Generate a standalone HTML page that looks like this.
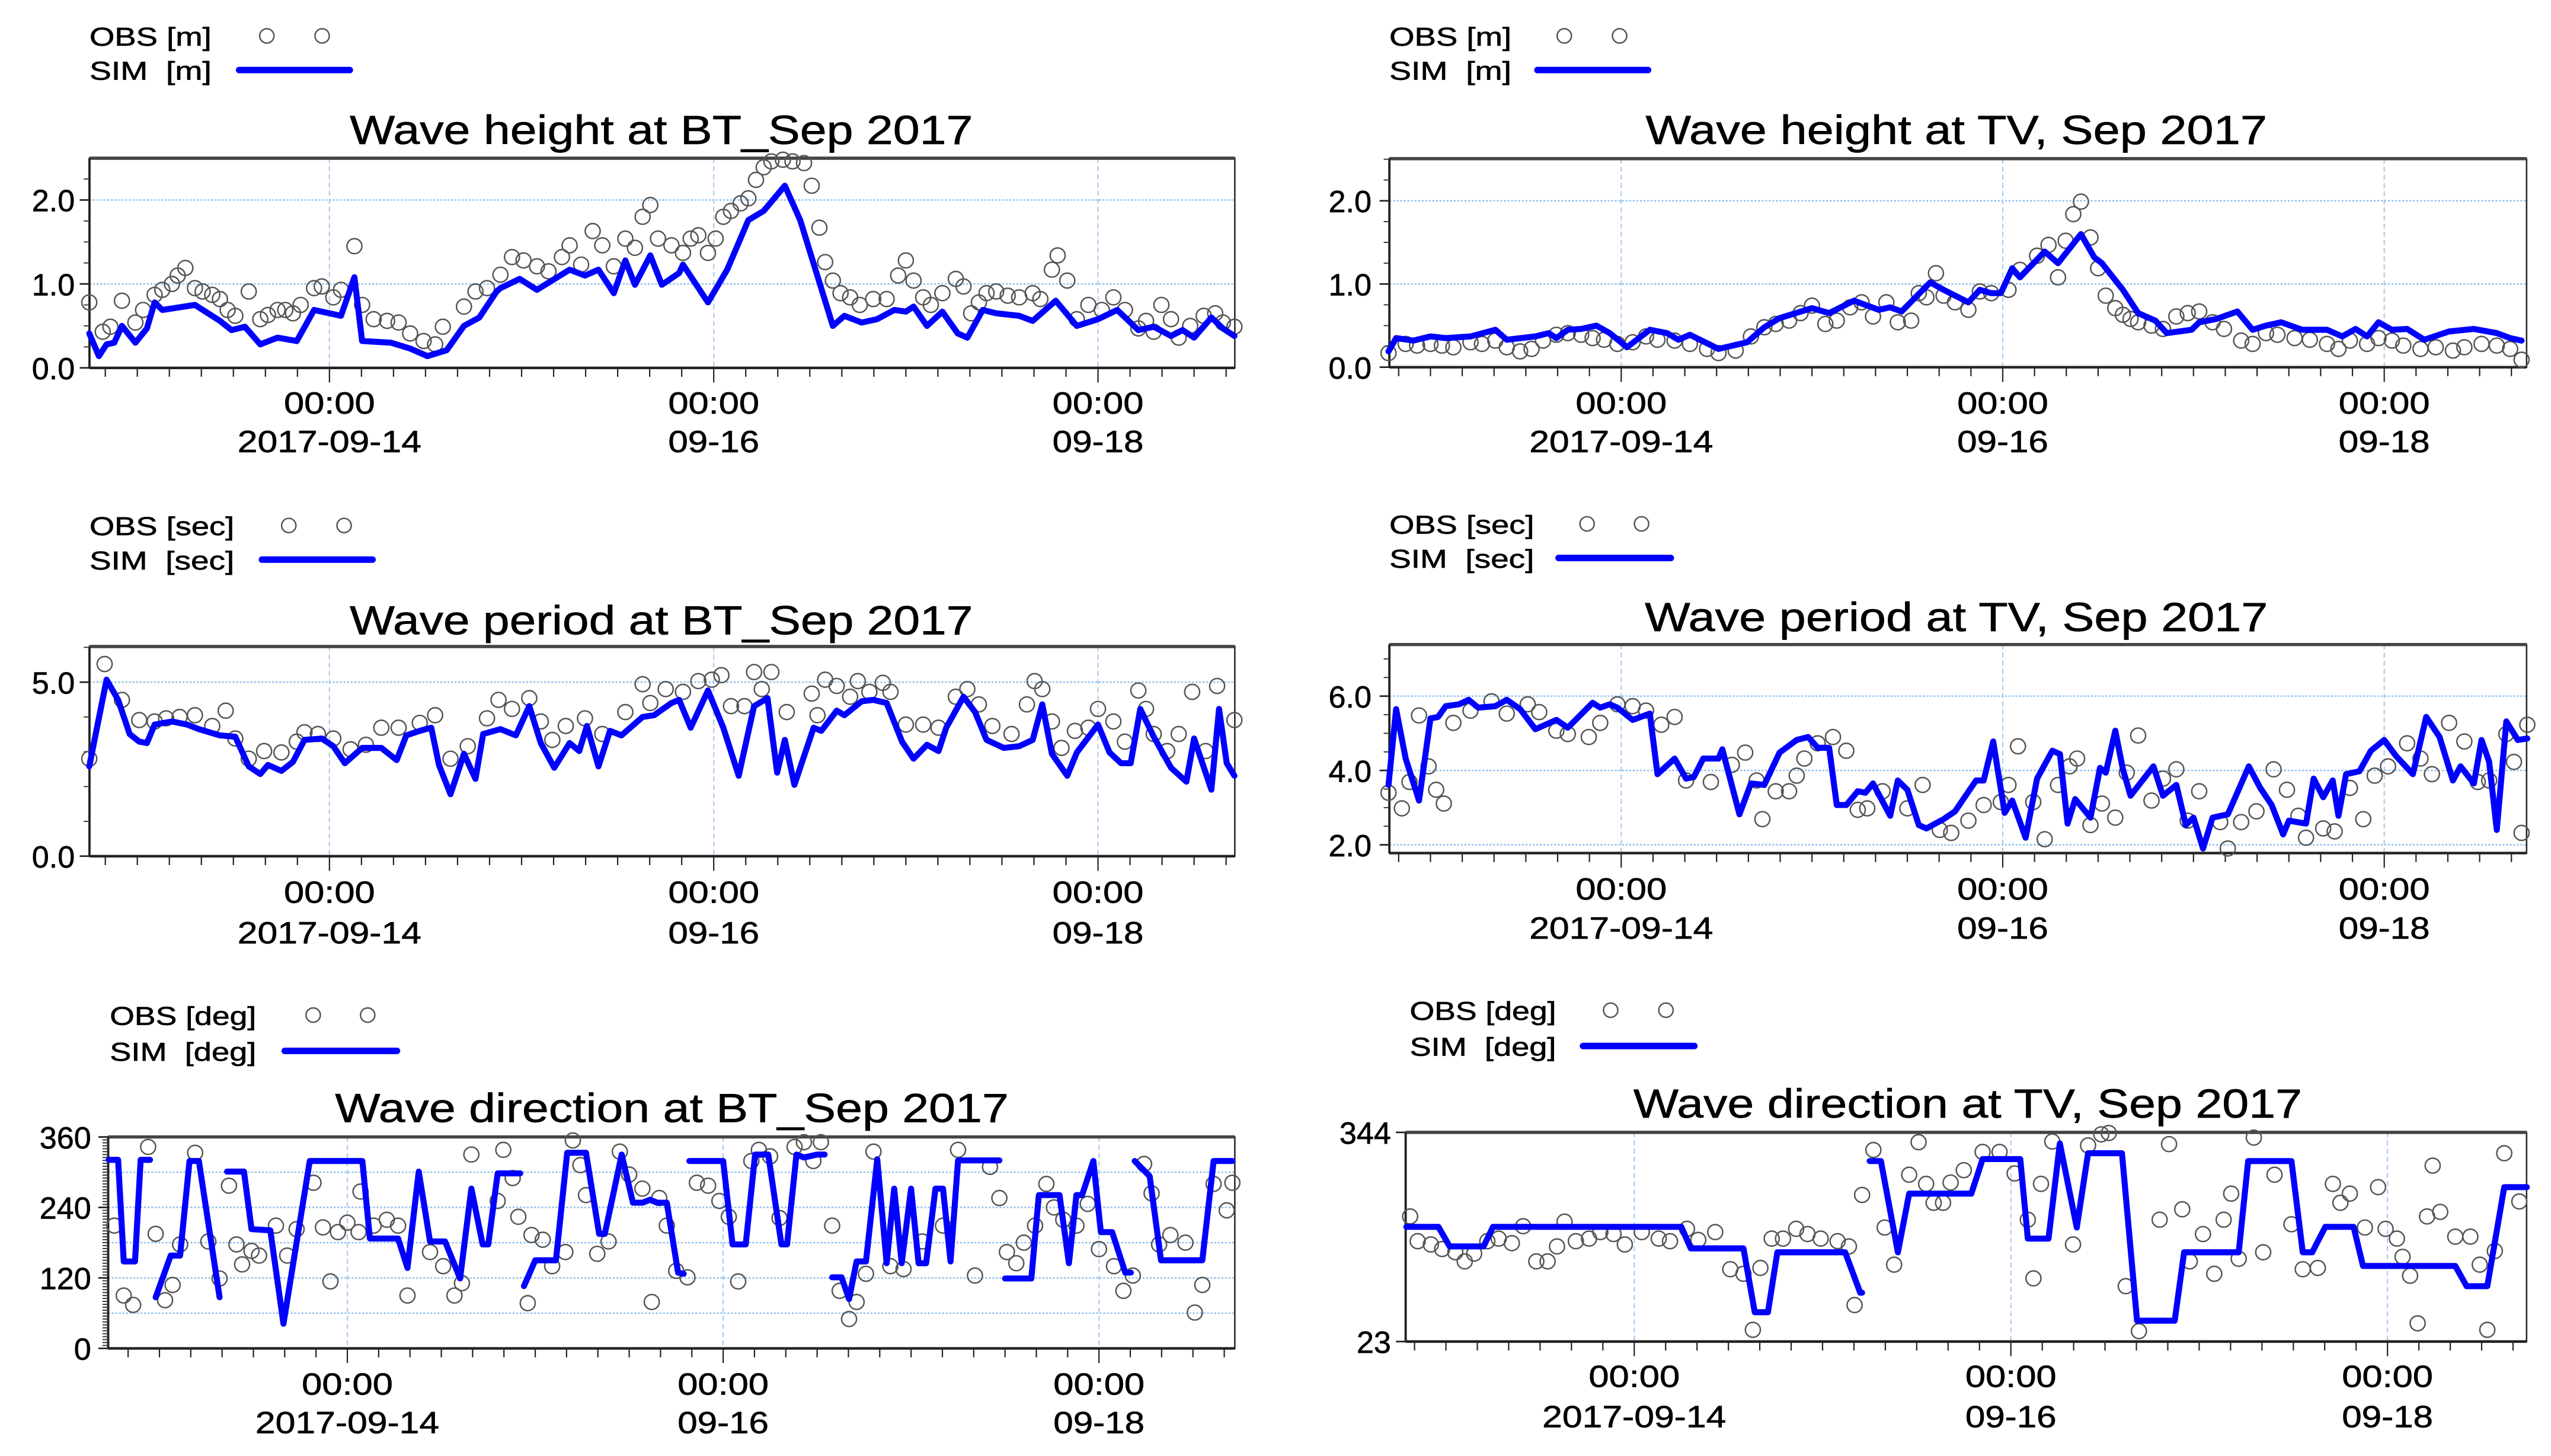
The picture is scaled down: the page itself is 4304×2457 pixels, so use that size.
<!DOCTYPE html>
<html><head><meta charset="utf-8"><title>Wave comparison BT / TV Sep 2017</title>
<style>
html,body{margin:0;padding:0;background:#fff;}
svg{display:block;font-family:"Liberation Sans",Arial,sans-serif;}
svg text{stroke:#000;stroke-width:0.25px;}
</style></head>
<body>
<svg id="chart" xmlns="http://www.w3.org/2000/svg" width="4304" height="2457" viewBox="0 0 1568 895"></svg>
<script>
// ---------- DATA (days relative to 2017-09-14 00:00) ----------
const xTickDays = [0, 2, 4];
const xTickTimes = ["00:00", "00:00", "00:00"];
const xTickDates = ["2017-09-14", "09-16", "09-18"];

// Panel 1: wave height BT
const p1SimDays = [-1.25,-1.2,-1.16,-1.12,-1.08,-1.01,-0.95,-0.91,-0.87,-0.7,-0.57,-0.51,-0.44,-0.36,-0.27,-0.17,-0.08,0.06,0.13,0.17,0.32,0.42,0.51,0.61,0.7,0.78,0.87,0.89,0.99,1.08,1.25,1.33,1.4,1.48,1.54,1.59,1.67,1.73,1.82,1.84,1.97,2.07,2.18,2.26,2.37,2.45,2.62,2.68,2.77,2.85,2.94,3.0,3.04,3.11,3.19,3.27,3.32,3.4,3.47,3.59,3.66,3.78,3.89,4.0,4.1,4.21,4.29,4.38,4.44,4.5,4.59,4.65,4.71];
const p1SimVals = [.41,.14,.28,.3,.5,.3,.47,.78,.69,.75,.56,.45,.49,.28,.36,.32,.69,.62,1.08,.32,.3,.23,.14,.21,.5,.6,.91,.95,1.06,.93,1.17,1.1,1.17,.89,1.28,.99,1.34,.99,1.13,1.23,.78,1.17,1.76,1.87,2.17,1.76,.5,.62,.54,.58,.69,.67,.73,.5,.67,.41,.36,.69,.65,.62,.56,.8,.5,.58,.69,.45,.49,.38,.45,.36,.6,.47,.38];
const p1ObsDays = [-1.25,-1.18,-1.14,-1.08,-1.01,-0.97,-0.91,-0.87,-0.82,-0.79,-0.75,-0.7,-0.66,-0.61,-0.57,-0.53,-0.49,-0.42,-0.36,-0.32,-0.27,-0.23,-0.19,-0.15,-0.08,-0.04,0.02,0.06,0.13,0.17,0.23,0.3,0.36,0.42,0.49,0.55,0.59,0.7,0.76,0.82,0.89,0.95,1.01,1.08,1.14,1.21,1.25,1.31,1.37,1.42,1.48,1.54,1.59,1.63,1.67,1.71,1.78,1.84,1.88,1.92,1.97,2.01,2.05,2.09,2.14,2.18,2.22,2.26,2.3,2.36,2.41,2.47,2.51,2.55,2.58,2.62,2.66,2.71,2.76,2.83,2.9,2.96,3.0,3.04,3.09,3.13,3.19,3.26,3.3,3.34,3.38,3.42,3.47,3.53,3.59,3.66,3.7,3.76,3.79,3.84,3.89,3.95,4.02,4.08,4.14,4.21,4.25,4.29,4.33,4.38,4.42,4.48,4.55,4.61,4.65,4.71];
const p1ObsVals = [.78,.43,.49,.8,.54,.69,.87,.93,1.0,1.1,1.19,.95,.91,.87,.82,.69,.62,.91,.58,.63,.69,.69,.65,.75,.95,.97,.84,.93,1.45,.75,.58,.56,.54,.41,.32,.28,.49,.73,.91,.95,1.11,1.32,1.28,1.21,1.15,1.32,1.46,1.23,1.63,1.46,1.21,1.54,1.43,1.8,1.94,1.54,1.46,1.37,1.54,1.58,1.37,1.54,1.8,1.87,1.96,2.02,2.24,2.39,2.46,2.48,2.46,2.44,2.17,1.67,1.26,1.04,.89,.84,.75,.82,.82,1.1,1.28,1.04,.84,.75,.89,1.06,.97,.65,.78,.89,.91,.86,.84,.89,.82,1.17,1.34,1.04,.58,.75,.69,.84,.69,.47,.56,.43,.75,.58,.36,.5,.62,.65,.54,.49];

// Panel 2: wave height TV
const p2SimDays = [-1.22,-1.18,-1.09,-1.0,-0.92,-0.79,-0.66,-0.6,-0.45,-0.38,-0.34,-0.28,-0.21,-0.13,-0.06,0.03,0.15,0.24,0.3,0.36,0.51,0.66,0.75,0.83,1.0,1.09,1.22,1.35,1.41,1.47,1.62,1.69,1.82,1.88,1.94,1.99,2.05,2.09,2.22,2.29,2.41,2.48,2.52,2.63,2.71,2.8,2.86,2.99,3.03,3.12,3.23,3.31,3.38,3.46,3.57,3.7,3.78,3.85,3.91,3.97,4.04,4.12,4.21,4.34,4.47,4.59,4.66,4.72];
const p2SimVals = [.19,.35,.32,.37,.35,.37,.45,.33,.37,.41,.35,.45,.46,.5,.41,.24,.45,.41,.33,.39,.22,.3,.48,.59,.71,.65,.8,.69,.72,.67,1.02,.93,.78,.93,.89,.89,1.19,1.08,1.39,1.25,1.6,1.32,1.25,.93,.65,.56,.41,.45,.54,.58,.67,.45,.5,.54,.45,.45,.37,.46,.37,.54,.45,.46,.33,.43,.46,.41,.35,.32];
const p2ObsDays = [-1.22,-1.13,-1.07,-1.0,-0.94,-0.88,-0.79,-0.73,-0.66,-0.6,-0.53,-0.47,-0.41,-0.34,-0.28,-0.21,-0.15,-0.09,-0.02,0.06,0.13,0.19,0.28,0.36,0.45,0.51,0.6,0.68,0.75,0.81,0.88,0.94,1.0,1.07,1.13,1.2,1.26,1.32,1.39,1.45,1.52,1.56,1.6,1.65,1.69,1.75,1.82,1.88,1.94,2.03,2.09,2.18,2.24,2.29,2.33,2.37,2.41,2.46,2.5,2.54,2.59,2.63,2.67,2.71,2.78,2.84,2.91,2.97,3.03,3.1,3.16,3.25,3.31,3.38,3.44,3.53,3.61,3.7,3.76,3.82,3.91,3.97,4.04,4.1,4.19,4.27,4.36,4.42,4.51,4.59,4.66,4.72];
const p2ObsVals = [.17,.28,.26,.28,.26,.24,.3,.28,.32,.24,.19,.22,.32,.39,.41,.39,.35,.33,.28,.3,.37,.33,.32,.28,.22,.17,.2,.37,.48,.52,.56,.65,.74,.52,.56,.72,.78,.61,.78,.54,.56,.89,.84,1.13,.86,.78,.69,.91,.89,.93,1.17,1.34,1.47,1.08,1.52,1.84,1.99,1.56,1.19,.86,.71,.63,.58,.54,.5,.46,.61,.65,.67,.54,.46,.32,.28,.41,.39,.35,.33,.28,.22,.32,.28,.35,.32,.26,.22,.24,.2,.24,.28,.26,.22,.09];

// Panel 3: wave period BT
const p3SimDays = [-1.25,-1.21,-1.16,-1.1,-1.04,-0.99,-0.95,-0.91,-0.82,-0.74,-0.68,-0.57,-0.49,-0.42,-0.36,-0.32,-0.25,-0.19,-0.13,-0.04,0.02,0.08,0.17,0.27,0.35,0.4,0.47,0.53,0.57,0.63,0.7,0.76,0.8,0.89,0.97,1.04,1.1,1.17,1.25,1.3,1.34,1.4,1.46,1.52,1.63,1.69,1.78,1.82,1.88,1.97,2.05,2.13,2.21,2.28,2.33,2.37,2.42,2.52,2.56,2.64,2.68,2.77,2.83,2.9,2.98,3.04,3.11,3.17,3.21,3.3,3.36,3.42,3.51,3.59,3.66,3.71,3.76,3.84,3.89,4.0,4.06,4.12,4.17,4.22,4.29,4.38,4.46,4.5,4.59,4.63,4.67,4.71];
const p3SimVals = [2.58,3.69,5.07,4.49,3.51,3.29,3.25,3.78,3.87,3.78,3.65,3.47,3.43,2.58,2.36,2.62,2.45,2.71,3.34,3.38,3.16,2.67,3.11,3.11,2.76,3.47,3.6,3.69,2.62,1.78,2.94,2.22,3.51,3.65,3.47,4.31,3.25,2.54,3.25,3.02,3.74,2.58,3.6,3.47,4.0,4.05,4.4,4.49,3.69,4.76,3.69,2.31,4.31,4.54,2.4,3.34,2.05,3.69,3.6,4.18,4.05,4.45,4.49,4.4,3.29,2.8,3.2,3.02,3.69,4.58,4.14,3.34,3.11,3.16,3.34,4.36,2.94,2.31,2.98,3.78,2.98,2.67,2.67,4.23,3.43,2.54,2.14,3.38,1.91,4.23,2.67,2.31];
const p3ObsDays = [-1.25,-1.17,-1.08,-0.99,-0.91,-0.85,-0.78,-0.7,-0.61,-0.54,-0.49,-0.42,-0.34,-0.25,-0.17,-0.13,-0.06,0.02,0.11,0.19,0.27,0.36,0.47,0.55,0.63,0.72,0.82,0.88,0.95,1.04,1.1,1.16,1.23,1.33,1.42,1.54,1.63,1.67,1.75,1.84,1.92,1.99,2.04,2.09,2.16,2.21,2.25,2.3,2.38,2.51,2.54,2.58,2.64,2.71,2.75,2.81,2.88,2.92,3.0,3.09,3.17,3.26,3.32,3.38,3.45,3.55,3.63,3.67,3.71,3.76,3.81,3.88,3.95,4.0,4.08,4.14,4.21,4.25,4.29,4.36,4.42,4.49,4.56,4.62,4.71];
const p3ObsVals = [2.8,5.52,4.49,3.91,3.87,3.96,4.0,4.05,3.74,4.18,3.38,2.8,3.02,2.98,3.29,3.56,3.51,3.38,3.07,3.2,3.69,3.69,3.83,4.05,2.8,3.16,3.96,4.49,4.23,4.54,3.87,3.34,3.74,3.96,3.51,4.14,4.94,4.4,4.8,4.72,5.03,5.07,5.2,4.31,4.31,5.29,4.8,5.29,4.14,4.67,4.05,5.07,4.89,4.58,5.03,4.72,4.98,4.72,3.78,3.78,3.69,4.58,4.8,4.36,3.74,3.51,4.36,5.03,4.8,3.87,3.11,3.6,3.69,4.23,3.87,3.29,4.76,4.23,3.51,3.02,3.51,4.72,3.02,4.89,3.91];

// Panel 4: wave period TV
const p4SimDays = [-1.22,-1.18,-1.13,-1.06,-1.0,-0.96,-0.92,-0.85,-0.8,-0.75,-0.66,-0.6,-0.53,-0.45,-0.34,-0.28,-0.15,-0.11,-0.06,-0.02,0.06,0.15,0.19,0.28,0.34,0.38,0.43,0.51,0.53,0.62,0.68,0.75,0.83,0.92,0.98,1.03,1.09,1.13,1.18,1.24,1.28,1.32,1.41,1.45,1.5,1.56,1.6,1.69,1.75,1.86,1.9,1.95,2.01,2.05,2.12,2.18,2.26,2.3,2.34,2.38,2.46,2.51,2.54,2.59,2.63,2.67,2.79,2.84,2.91,2.96,3.0,3.05,3.1,3.18,3.29,3.35,3.41,3.47,3.5,3.59,3.63,3.68,3.73,3.76,3.8,3.87,3.93,4.0,4.06,4.15,4.22,4.29,4.36,4.4,4.47,4.51,4.55,4.59,4.64,4.7,4.75];
const p4SimVals = [3.61,5.65,4.32,3.19,5.4,5.44,5.73,5.78,5.9,5.69,5.73,5.9,5.65,5.11,5.36,5.15,5.82,5.69,5.78,5.69,5.36,5.53,3.9,4.32,3.78,3.82,4.32,4.32,4.57,2.82,3.65,3.61,4.48,4.82,4.9,4.61,4.61,3.07,3.07,3.44,3.4,3.65,2.78,3.73,3.48,2.53,2.44,2.69,2.9,3.73,3.73,4.78,2.86,3.19,2.19,3.78,4.53,4.44,2.57,3.23,2.73,4.07,3.94,5.07,4.03,3.32,4.11,3.32,3.61,2.53,2.73,1.9,2.73,2.82,4.11,3.53,3.07,2.28,2.65,2.57,3.78,3.28,3.73,2.78,3.9,3.98,4.53,4.82,4.4,3.9,5.44,4.9,3.73,4.11,3.65,4.82,4.23,2.4,5.32,4.82,4.86];
const p4ObsDays = [-1.22,-1.15,-1.11,-1.06,-1.01,-0.97,-0.93,-0.88,-0.79,-0.68,-0.6,-0.49,-0.43,-0.34,-0.28,-0.17,-0.11,-0.02,0.06,0.13,0.21,0.28,0.34,0.47,0.58,0.65,0.71,0.74,0.81,0.88,0.92,0.96,1.03,1.11,1.18,1.24,1.29,1.37,1.5,1.58,1.67,1.73,1.82,1.9,1.99,2.03,2.08,2.16,2.22,2.29,2.35,2.39,2.46,2.52,2.59,2.65,2.71,2.78,2.84,2.91,2.97,3.03,3.14,3.18,3.25,3.33,3.42,3.49,3.55,3.59,3.68,3.74,3.82,3.89,3.95,4.02,4.12,4.19,4.25,4.34,4.42,4.49,4.55,4.64,4.68,4.72,4.75];
const p4ObsVals = [3.4,2.98,3.69,5.48,4.11,3.48,3.11,5.28,5.61,5.86,5.53,5.78,5.57,5.07,4.98,4.9,5.28,5.78,5.73,5.61,5.23,5.44,3.73,3.69,4.15,4.48,3.73,2.69,3.44,3.44,3.86,4.32,4.73,4.9,4.53,2.94,2.98,3.44,2.98,3.61,2.4,2.32,2.65,3.07,3.15,3.61,4.65,3.15,2.15,3.61,4.11,4.32,2.53,3.11,2.73,3.94,4.94,3.19,3.78,4.03,2.65,3.44,2.61,1.9,2.61,2.9,4.03,3.48,2.78,2.19,2.44,2.36,3.53,2.69,3.86,4.11,4.73,4.32,3.9,5.28,4.78,3.69,3.73,4.98,4.23,2.32,5.23];

// Panel 5: wave direction BT (null = gap)
const p5SimDays = [-1.27,-1.22,-1.19,-1.13,-1.1,-1.05,null,-1.02,-0.94,-0.89,-0.84,-0.79,-0.68,null,-0.64,-0.55,-0.51,-0.41,-0.34,-0.2,0.08,0.12,0.27,0.32,0.38,0.44,0.52,0.6,0.66,0.72,0.75,0.8,0.92,null,0.94,1.0,1.11,1.17,1.27,1.34,1.37,1.46,1.52,1.57,1.61,1.65,1.7,1.76,1.79,null,1.82,2.0,2.05,2.12,2.17,2.24,2.31,2.34,2.39,2.43,2.5,2.54,null,2.58,2.63,2.67,2.71,2.76,2.82,2.87,2.91,2.95,3.0,3.04,3.08,3.13,3.17,3.21,3.25,3.47,null,3.5,3.64,3.68,3.79,3.84,3.88,3.91,3.97,4.01,4.07,4.14,4.17,null,4.19,4.27,4.33,4.55,4.61,4.71];
const p5SimVals = [321,321,148,148,321,321,null,87,158,158,319,319,87,null,301,301,203,201,42,319,319,187,187,137,301,182,182,119,272,177,177,298,298,null,106,150,150,333,333,195,195,330,248,248,253,248,248,129,127,null,319,319,177,177,330,330,177,177,330,325,330,330,null,121,121,84,148,148,322,145,272,145,272,145,145,272,272,148,320,320,null,119,119,261,261,145,261,261,319,198,198,129,129,null,319,293,150,150,319,319];
const p5ObsDays = [-1.24,-1.19,-1.14,-1.06,-1.02,-0.97,-0.93,-0.89,-0.81,-0.74,-0.68,-0.63,-0.59,-0.56,-0.51,-0.47,-0.38,-0.32,-0.27,-0.18,-0.13,-0.09,-0.05,0.0,0.06,0.07,0.14,0.21,0.27,0.32,0.44,0.51,0.57,0.61,0.66,0.8,0.83,0.88,0.91,0.96,0.98,1.04,1.09,1.16,1.2,1.24,1.27,1.33,1.39,1.45,1.5,1.57,1.62,1.66,1.7,1.75,1.81,1.86,1.92,1.98,2.03,2.08,2.15,2.19,2.25,2.3,2.38,2.43,2.48,2.52,2.58,2.62,2.67,2.71,2.76,2.8,2.89,2.96,3.06,3.17,3.25,3.34,3.42,3.47,3.51,3.56,3.6,3.66,3.72,3.76,3.81,3.88,3.94,4.0,4.08,4.13,4.18,4.24,4.28,4.32,4.38,4.46,4.51,4.55,4.61,4.68,4.71];
const p5ObsVals = [209,90,74,343,195,82,108,177,333,182,119,277,177,143,166,158,209,158,203,282,206,114,198,214,198,267,209,219,209,90,164,140,90,111,330,251,338,290,224,77,193,185,140,164,354,312,261,161,182,335,296,272,79,256,209,132,121,282,277,251,224,114,319,338,327,222,343,351,319,351,209,98,50,79,127,335,140,135,182,209,338,124,309,256,164,145,180,209,280,240,219,209,246,169,140,98,124,314,264,177,193,180,61,108,280,235,282];

// Panel 6: wave direction TV (null = gap)
const p6SimDays = [-1.21,-1.04,-0.98,-0.8,-0.75,0.25,0.3,0.58,0.64,0.71,0.76,1.12,1.2,1.21,null,1.25,1.31,1.4,1.46,1.79,1.85,2.05,2.09,2.2,2.26,2.35,2.41,2.59,2.67,2.87,2.92,3.21,3.26,3.49,3.55,3.6,3.67,3.82,3.87,4.36,4.42,4.53,4.62,4.74];
const p6SimVals = [199,199,169,169,199,199,166,166,68,68,160,160,98,98,null,300,300,160,250,250,303,303,181,181,327,198,312,312,55,55,160,160,300,300,160,160,199,199,139,139,108,108,260,260];
const p6ObsDays = [-1.19,-1.15,-1.08,-1.02,-0.95,-0.9,-0.85,-0.78,-0.72,-0.65,-0.59,-0.52,-0.46,-0.41,-0.37,-0.31,-0.24,-0.18,-0.11,-0.05,0.04,0.13,0.19,0.28,0.34,0.43,0.51,0.58,0.63,0.67,0.73,0.79,0.86,0.92,0.99,1.08,1.14,1.17,1.21,1.27,1.33,1.38,1.46,1.51,1.55,1.59,1.64,1.68,1.75,1.85,1.94,2.02,2.09,2.12,2.16,2.22,2.33,2.41,2.48,2.52,2.61,2.68,2.79,2.84,2.91,2.95,3.02,3.08,3.13,3.17,3.21,3.29,3.34,3.4,3.49,3.55,3.63,3.71,3.75,3.8,3.88,3.95,3.99,4.05,4.08,4.12,4.16,4.21,4.24,4.28,4.36,4.44,4.49,4.53,4.57,4.62,4.7];
const p6ObsVals = [215,177,172,165,160,146,158,177,181,174,200,146,146,169,207,177,181,191,188,172,191,181,177,196,179,191,134,127,41,136,181,181,196,188,181,177,169,79,248,317,198,141,279,329,265,236,236,267,286,314,314,281,210,120,265,330,172,324,341,343,108,39,210,326,226,146,188,127,210,250,150,336,160,279,203,134,136,265,236,250,198,260,196,181,153,124,51,215,293,222,184,184,141,41,162,312,238];

// ---------- RENDERING ----------
const NS = "http://www.w3.org/2000/svg";
const svg = document.getElementById("chart");
function el(tag, attrs, parent) {
  const e = document.createElementNS(NS, tag);
  for (const k in attrs) e.setAttribute(k, attrs[k]);
  (parent || svg).appendChild(e);
  return e;
}
function txt(str, attrs, parent) {
  const t = el("text", attrs, parent);
  t.textContent = str;
  return t;
}

const panels = [
  {key:"bt-height", title:"Wave height at BT_Sep 2017", titleX:406.5, titleY:88.5, titleW:383,
   unit:"[m]", legX:55, legObsY:28, legSimY:49, circ:[164,198], line:[147,215], legW:75,
   px0:55, px1:759, top:97.2, bottom:226.1, tx0:202.5, pxDay:118.1, yA:226.1, vA:0, pxU:51.6,
   yTicks:[0,1,2], yLabels:["0.0","1.0","2.0"], grid:[1,2], minorY:0.25, labX:46,
   tBase:254.3, dBase:278, sim:[p1SimDays,p1SimVals], obs:[p1ObsDays,p1ObsVals]},
  {key:"tv-height", title:"Wave height at TV, Sep 2017", titleX:1202.5, titleY:88.5, titleW:382,
   unit:"[m]", legX:854, legObsY:28, legSimY:49, circ:[961.5,995.5], line:[945,1013], legW:75,
   px0:854, px1:1553, top:97.5, bottom:225.7, tx0:996.5, pxDay:117.25, yA:225.7, vA:0, pxU:51.15,
   yTicks:[0,1,2], yLabels:["0.0","1.0","2.0"], grid:[1,2], minorY:0.25, labX:843,
   tBase:254.3, dBase:278, sim:[p2SimDays,p2SimVals], obs:[p2ObsDays,p2ObsVals]},
  {key:"bt-period", title:"Wave period at BT_Sep 2017", titleX:406.5, titleY:390, titleW:383,
   unit:"[sec]", legX:55, legObsY:329, legSimY:350, circ:[177.5,211.5], line:[161,229], legW:89,
   px0:55, px1:759, top:397.4, bottom:526.3, tx0:202.5, pxDay:118.1, yA:526.3, vA:0, pxU:21.4,
   yTicks:[0,5], yLabels:["0.0","5.0"], grid:[5], minorY:1, labX:46,
   tBase:555, dBase:580, sim:[p3SimDays,p3SimVals], obs:[p3ObsDays,p3ObsVals]},
  {key:"tv-period", title:"Wave period at TV, Sep 2017", titleX:1202.5, titleY:388, titleW:383,
   unit:"[sec]", legX:854, legObsY:328, legSimY:349, circ:[975.5,1009], line:[958,1027], legW:89,
   px0:854, px1:1553, top:396.2, bottom:524.4, tx0:996.5, pxDay:117.25, yA:519.3, vA:2, pxU:22.85,
   yTicks:[2,4,6], yLabels:["2.0","4.0","6.0"], grid:[2,4,6], minorY:0.5, labX:843,
   tBase:553, dBase:577, sim:[p4SimDays,p4SimVals], obs:[p4ObsDays,p4ObsVals]},
  {key:"bt-direction", title:"Wave direction at BT_Sep 2017", titleX:413, titleY:689.8, titleW:414,
   unit:"[deg]", legX:67.5, legObsY:630, legSimY:652, circ:[192.5,226], line:[175,244], legW:90,
   px0:66.5, px1:759, top:698.9, bottom:828.9, tx0:213.5, pxDay:115.5, yA:828.9, vA:0, pxU:0.3611,
   yTicks:[0,120,240,360], yLabels:["0","120","240","360"], grid:[60,120,180,240,300], minorY:5, labX:56,
   tBase:857.4, dBase:881, sim:[p5SimDays,p5SimVals], obs:[p5ObsDays,p5ObsVals]},
  {key:"tv-direction", title:"Wave direction at TV, Sep 2017", titleX:1209.5, titleY:687, titleW:411,
   unit:"[deg]", legX:866.5, legObsY:627, legSimY:649, circ:[990,1024], line:[973,1041.5], legW:90,
   px0:864, px1:1553, top:696.1, bottom:824.7, tx0:1004.5, pxDay:115.75, yA:824.7, vA:23, pxU:0.4006,
   yTicks:[23,344], yLabels:["23","344"], grid:[], minorY:0, labX:855,
   tBase:852.7, dBase:877.4, sim:[p6SimDays,p6SimVals], obs:[p6ObsDays,p6ObsVals]}
];

panels.forEach(function(p) {
  const g = el("g", {});
  
  
  const xOf = d => p.tx0 + d * p.pxDay;
  const yOf = v => p.yA - (v - p.vA) * p.pxU;

  // legend
  const lg = el("g", {}, g);
  
  
  const lo = txt("OBS " + p.unit, {x:p.legX, y:p.legObsY, "font-size":16, fill:"#000", textLength:p.legW, lengthAdjust:"spacingAndGlyphs"}, lg);
  
  
  p.circ.forEach(function(cx) {
    const c = el("circle", {cx:cx, cy:p.legObsY - 6, r:4.4, fill:"none", stroke:"#555", "stroke-width":0.9}, lg);
    
    
  });
  const ls = txt("SIM\u00a0 " + p.unit, {x:p.legX, y:p.legSimY, "font-size":16, fill:"#000", textLength:p.legW, lengthAdjust:"spacingAndGlyphs"}, lg);
  
  
  const ll = el("line", {x1:p.line[0], x2:p.line[1], y1:p.legSimY - 6, y2:p.legSimY - 6, stroke:"#0000ff", "stroke-width":4, "stroke-linecap":"round"}, lg);
  
  

  // title
  const t = txt(p.title, {x:p.titleX, y:p.titleY, "font-size":25, "text-anchor":"middle", fill:"#000", textLength:p.titleW, lengthAdjust:"spacingAndGlyphs"}, g);
  
  

  // grid
  p.grid.forEach(function(v) {
    const gl = el("line", {x1:p.px0, x2:p.px1, y1:yOf(v), y2:yOf(v), stroke:"#8fc0ee", "stroke-width":0.9, "stroke-dasharray":"1.2 1"}, g);
    
    
  });
  xTickDays.forEach(function(d) {
    const vl = el("line", {x1:xOf(d), x2:xOf(d), y1:p.top, y2:p.bottom, stroke:"#a8cdf0", "stroke-width":0.8, "stroke-dasharray":"3 2"}, g);
    
    
  });

  // frame
  const fr = el("rect", {x:p.px0, y:p.top, width:p.px1 - p.px0, height:p.bottom - p.top, fill:"none", stroke:"#222", "stroke-width":0.9}, g);
  
  
  const tb = el("line", {x1:p.px0, x2:p.px1, y1:p.top, y2:p.top, stroke:"#444", "stroke-width":2}, g);
  
  
  const bb = el("line", {x1:p.px0, x2:p.px1, y1:p.bottom, y2:p.bottom, stroke:"#222", "stroke-width":1.6}, g);
  
  
  const lb = el("line", {x1:p.px0, x2:p.px0, y1:p.top, y2:p.bottom, stroke:"#222", "stroke-width":1.4}, g);
  
  

  // x ticks (every 4 h)
  const dStart = (p.px0 - p.tx0) / p.pxDay, dEnd = (p.px1 - p.tx0) / p.pxDay;
  for (let k = Math.ceil(dStart * 6); k <= Math.floor(dEnd * 6); k++) {
    const d = k / 6;
    const major = k % 12 === 0;
    const tk = el("line", {x1:xOf(d), x2:xOf(d), y1:p.bottom, y2:p.bottom + (major ? 9 : 5.5), stroke:"#222", "stroke-width":0.8}, g);
    
    
  }
  xTickDays.forEach(function(d, i) {
    const a = txt(xTickTimes[i], {x:xOf(d), y:p.tBase, "font-size":19, "text-anchor":"middle", fill:"#000", textLength:56, lengthAdjust:"spacingAndGlyphs"}, g);
    
    
    const b = txt(xTickDates[i], {x:xOf(d), y:p.dBase, "font-size":19, "text-anchor":"middle", fill:"#000", textLength:xTickDates[i].length > 5 ? 113 : 56, lengthAdjust:"spacingAndGlyphs"}, g);
    
    
  });

  // y ticks
  if (p.minorY > 0) {
    const vTop = p.vA + (p.yA - p.top) / p.pxU, vBot = p.vA - (p.bottom - p.yA) / p.pxU;
    for (let v = Math.ceil(vBot / p.minorY) * p.minorY; v <= vTop + 1e-9; v += p.minorY) {
      const mt = el("line", {x1:p.px0 - 3.5, x2:p.px0, y1:yOf(v), y2:yOf(v), stroke:"#333", "stroke-width":0.7}, g);
      
      
    }
  }
  p.yTicks.forEach(function(v, i) {
    const yt = el("line", {x1:p.px0 - 6, x2:p.px0, y1:yOf(v), y2:yOf(v), stroke:"#222", "stroke-width":1}, g);
    
    
    const yl = txt(p.yLabels[i], {x:p.labX, y:yOf(v) + 7, "font-size":19, "text-anchor":"end", fill:"#000"}, g);
    
    
  });

  // observations
  const og = el("g", {}, g);
  
  
  const od = p.obs[0], ov = p.obs[1];
  for (let i = 0; i < od.length; i++) {
    if (ov[i] === null) continue;
    const c = el("circle", {cx:xOf(od[i]), cy:yOf(ov[i]), r:4.6, fill:"none", stroke:"#555", "stroke-width":0.9}, og);
    
    
  }

  // simulation line
  const sd = p.sim[0], sv = p.sim[1];
  let dstr = "", pen = false;
  for (let i = 0; i < sd.length; i++) {
    if (sv[i] === null || sd[i] === null) { pen = false; continue; }
    dstr += (pen ? " L" : " M") + xOf(sd[i]).toFixed(2) + " " + yOf(sv[i]).toFixed(2);
    pen = true;
  }
  const sl = el("path", {d:dstr.trim(), fill:"none", stroke:"#0000ff", "stroke-width":3.7, "stroke-linejoin":"round", "stroke-linecap":"round"}, g);
  
  
});
</script>
</body></html>
